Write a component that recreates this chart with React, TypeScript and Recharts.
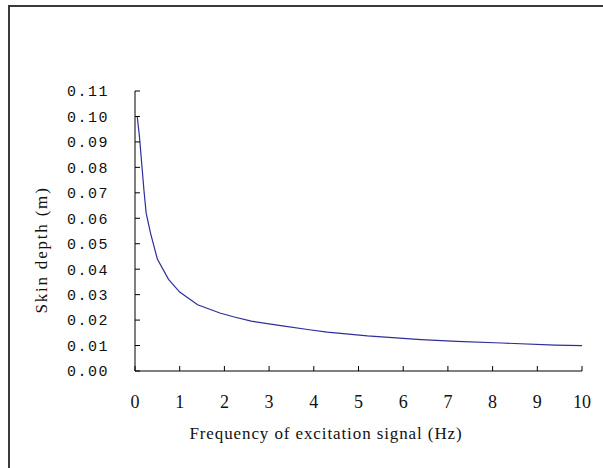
import React from "react";
import { LineChart, Line, XAxis, YAxis, Label } from "recharts";

const freqHz = [0.05, 0.1, 0.2, 0.25, 0.35, 0.5, 0.75, 1.0, 1.4, 1.9, 2.2, 2.6, 3.3, 3.9, 4.3, 5.2, 6.4, 7.2, 8.2, 9.4, 10];
const skinDepth = [0.1, 0.092, 0.071, 0.062, 0.054, 0.044, 0.036, 0.031, 0.026, 0.0228, 0.0213, 0.0196, 0.0177, 0.0162, 0.0153, 0.0138, 0.0123, 0.0116, 0.011, 0.0102, 0.01];

const xTicks = [0, 1, 2, 3, 4, 5, 6, 7, 8, 9, 10];
const yTicks = [0, 0.01, 0.02, 0.03, 0.04, 0.05, 0.06, 0.07, 0.08, 0.09, 0.1, 0.11];

const data = freqHz.map((f, i) => ({ f, depth: skinDepth[i] }));

export default function App() {
  return (
    <div style={{ position: "absolute", left: 0, top: 0, width: 603, height: 468, overflow: "hidden", background: "#fff" }}>
      <div
        style={{
          position: "absolute",
          left: 8,
          top: 5,
          width: 600,
          height: 470,
          borderTop: "2px solid #3a3a3a",
          borderLeft: "2px solid #3a3a3a",
        }}
      />
      <LineChart
        width={603}
        height={468}
        data={data}
        margin={{ top: 91, right: 21, left: 15, bottom: 27 }}
        style={{ position: "absolute", left: 0, top: 0 }}
      >
        <XAxis
          dataKey="f"
          type="number"
          domain={[0, 10]}
          ticks={xTicks}
          interval={0}
          height={70}
          tickSize={-5}
          tickMargin={29}
          axisLine={{ stroke: "#000" }}
          tickLine={{ stroke: "#000" }}
          tick={{ fill: "#111", fontSize: 18, fontFamily: "Liberation Serif" }}
        >
          <Label
            content={() => (
              <text x={326} y={433} textAnchor="middle" dominantBaseline="central" fontFamily="Liberation Serif" fontSize={17} letterSpacing={0.9} fill="#111">
                Frequency of excitation signal (Hz)
              </text>
            )}
          />
        </XAxis>
        <YAxis
          type="number"
          domain={[0, 0.11]}
          ticks={yTicks}
          interval={0}
          width={120}
          tickSize={-5}
          tickMargin={31}
          tickFormatter={(v: number) => v.toFixed(2)}
          axisLine={{ stroke: "#000" }}
          tickLine={{ stroke: "#000" }}
          tick={{ fill: "#111", fontSize: 15, fontFamily: "Liberation Mono", letterSpacing: 1.5 }}
        >
          <Label
            content={() => (
              <text x={41} y={250} transform="rotate(-90 41 250)" textAnchor="middle" dominantBaseline="central" fontFamily="Liberation Serif" fontSize={17} letterSpacing={1.8} fill="#111">
                Skin depth (m)
              </text>
            )}
          />
        </YAxis>
        <Line type="linear" dataKey="depth" stroke="#2e2e9a" strokeWidth={1.2} dot={false} isAnimationActive={false} />
      </LineChart>
    </div>
  );
}
